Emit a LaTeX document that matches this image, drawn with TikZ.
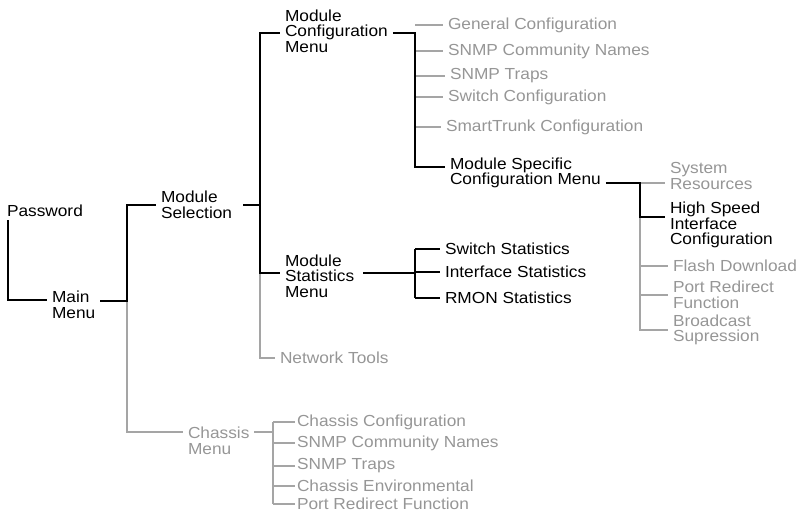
\documentclass[tikz,border=0pt]{standalone}
\usepackage{fontspec}
\setmainfont[FakeStretch=1.08]{Liberation Sans}
\usepackage{tikz}
\definecolor{dimgray}{RGB}{150,150,150}
\definecolor{dimline}{RGB}{165,165,165}
\tikzset{ %inner sep = 0mm,
  {menu/.style} ={anchor=west, inner sep=0pt, outer sep=5pt, align=left,
                  font=\fontsize{16}{15.5}\selectfont, text=black},
  {dimmenu/.style} ={menu, text=dimgray},
  {link/.style} ={draw, line width=1.4pt, black},
  {dimlink/.style} ={draw, line width=1.2pt, dimline},
 }

\begin{document}
\begin{tikzpicture}[x=1pt,y=-1pt]
    \useasboundingbox (0,0) rectangle (802,515);
    % main path
    \node[menu] (pw) at (2,211) {Password};
    \node[menu] (main) at (47,305) {Main\\Menu};
    \node[menu] (sel) at (156,205) {Module\\Selection};
    \node[menu] (modcfg) at (280,31) {Module\\Configuration\\Menu};
    \node[menu] (modstat) at (280,276) {Module\\Statistics\\Menu};
    \node[dimmenu] (nettools) at (275,358) {Network Tools};
    \node[dimmenu] (chassis) at (183,441) {Chassis\\Menu};
    % module configuration
    \node[dimmenu] (gencfg) at (443,25) {General Configuration};
    \node[dimmenu] (snmpcn) at (443,51) {SNMP Community Names};
    \node[dimmenu] (snmptr) at (445,76) {SNMP Traps};
    \node[dimmenu] (swcfg) at (443,97) {Switch Configuration};
    \node[dimmenu] (smart) at (441,127) {SmartTrunk Configuration};
    \node[menu] (modspec) at (445,173) {Module Specific\\Configuration Menu};
    % module specific
    \node[dimmenu] (sysres) at (665,176) {System\\Resources};
    \node[menu] (highspeed) at (665,225) {High Speed\\Interface\\Configuration};
    \node[dimmenu] (flash) at (668,266) {Flash Download};
    \node[dimmenu] (portred) at (668,295) {Port Redirect\\Function};
    \node[dimmenu] (bcast) at (668,330) {Broadcast\\Supression};
    % statistics
    \node[menu] (swstat) at (440,249) {Switch Statistics};
    \node[menu] (ifstat) at (440,272) {Interface Statistics};
    \node[menu] (rmon) at (440,298) {RMON Statistics};
    % chassis
    \node[dimmenu,outer sep=2pt] (chcfg) at (295,422) {Chassis Configuration};
    \node[dimmenu,outer sep=2pt] (chsnmp) at (295,443) {SNMP Community Names};
    \node[dimmenu,outer sep=2pt] (chtraps) at (295,466) {SNMP Traps};
    \node[dimmenu,outer sep=2pt] (chenv) at (295,486) {Chassis Environmental};
    \node[dimmenu,outer sep=2pt] (chport) at (295,504) {Port Redirect Function};

    \coordinate (pwdrop) at (8,220);
    \coordinate (mainbus) at (127,301);
    \coordinate (selbus) at (260,205);
    \coordinate (statbus) at (260,273);
    \coordinate (cfgbus) at (415,33);
    \coordinate (specbus) at (640,183);
    \coordinate (statsbus) at (415,273);
    \coordinate (chbus) at (273,432);

    % gray branches first
    \draw[dimlink] (mainbus) |- ([yshift=9pt]chassis.west);
    \draw[dimlink] (statbus) |- (nettools.west);
    \foreach \n in {gencfg,snmpcn,snmptr,swcfg,smart}
      \draw[dimlink] (cfgbus |- \n.west) -- (\n.west);
    \draw[dimlink] (specbus) -- ([yshift=-7pt]sysres.west);
    \draw[dimlink] (specbus) |- (bcast.west);
    \foreach \n in {flash,portred}
      \draw[dimlink] (specbus |- \n.west) -- (\n.west);
    \draw[dimlink] ([yshift=9pt]chassis.east) -- (chbus);
    \draw[dimlink] (chbus |- chcfg.west) -- (chbus |- chport.west);
    \foreach \n in {chcfg,chsnmp,chtraps,chenv,chport}
      \draw[dimlink] (chbus |- \n.west) -- (\n.west);

    % black branches
    \draw[link] (pwdrop) |- ([yshift=5pt]main.west);
    \draw[link] ([yshift=4pt]main.east) -- (mainbus) |- (sel.west);
    \draw[link, shorten <=6pt] (sel.east) -- (selbus);
    \draw[link] (selbus) |- ([yshift=-2pt]modcfg.west);
    \draw[link] (selbus) |- ([yshift=3pt]modstat.west);
    \draw[link] ([yshift=-2pt]modcfg.east) -- (cfgbus) |- ([yshift=6pt]modspec.west);
    \draw[link] ([yshift=-10pt]modspec.east) -- (specbus) |- ([yshift=8pt]highspeed.west);
    \draw[link, shorten <=4pt] ([yshift=3pt]modstat.east) -- (statsbus);
    \draw[link] (statsbus |- swstat.west) -- (statsbus |- rmon.west);
    \foreach \n in {swstat,ifstat,rmon}
      \draw[link] (statsbus |- \n.west) -- (\n.west);
\end{tikzpicture}
\end{document}
